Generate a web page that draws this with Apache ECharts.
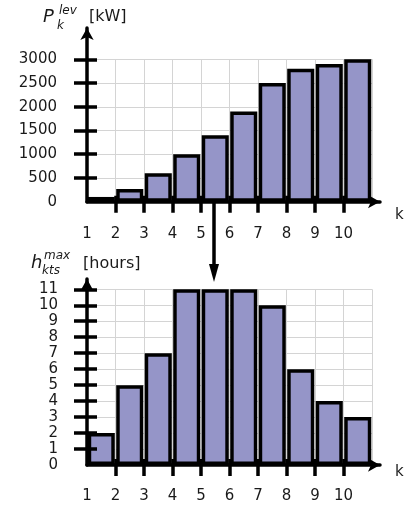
<!DOCTYPE html>
<html>
<head>
<meta charset="utf-8">
<style>
  html, body { margin: 0; padding: 0; background: #fff; }
  #main { width: 404px; height: 508px; }
</style>
<script src="https://cdn.jsdelivr.net/npm/echarts@6/dist/echarts.min.js"></script>
</head>
<body>
<div id="main"></div>
<script>
// data
var kCategories = ['1', '2', '3', '4', '5', '6', '7', '8', '9', '10']
var kTicks = ['1', '2', '3', '4', '5', '6', '7', '8', '9', '10', '11']
var powerLev = [100, 270, 600, 1000, 1400, 1900, 2500, 2800, 2900, 3000]
var hoursMax = [2, 5, 7, 11, 11, 11, 10, 6, 4, 3]
var powerTicks = ['0', '500', '1000', '1500', '2000', '2500', '3000']
var hoursTicks = ['0', '1', '2', '3', '4', '5', '6', '7', '8', '9', '10', '11']

var FONT = 'DejaVu Sans'
var TEXT = '#1a1a1a'
var BAR = '#9595c8'
var GRID_LINE = '#d4d4d4'
var W = 3.5

var grids = []
var xAxes = []
var yAxes = []
var series = []

// one panel = data grid + axis-line grid (for the arrows)
function addPanel(p) {
  var gA = grids.length
  grids.push({ left: 87, top: p.top, width: 285, height: p.height, outerBoundsMode: 'none' })
  grids.push({ left: 87, top: p.arrowTop, right: 24, bottom: 508 - p.top - p.height, outerBoundsMode: 'none' })
  var gB = gA + 1
  var last = p.ticks.length - 1
  var xi = xAxes.length
  var yi = yAxes.length

  // bars band axis (hidden)
  xAxes.push({ type: 'category', gridIndex: gA, position: 'bottom', data: kCategories, show: false, boundaryGap: true })
  // labels + split lines + outer ticks
  xAxes.push({
    type: 'category', gridIndex: gA, position: 'bottom', data: kTicks, boundaryGap: false,
    axisLine: { show: false },
    axisTick: { show: true, length: 11, interval: function(i) { return i > 0 && i < kTicks.length - 1 }, lineStyle: { color: '#000', width: W } },
    axisLabel: { interval: function(i) { return i < kTicks.length - 1 }, margin: p.xMargin, color: TEXT, fontFamily: FONT, fontSize: 15 },
    splitLine: { show: true, interval: 0, lineStyle: { color: GRID_LINE, width: 1 } }
  })
  // inner ticks on top of bars
  xAxes.push({
    type: 'category', gridIndex: gA, position: 'bottom', data: kTicks, boundaryGap: false, z: 10,
    axisLine: { show: false },
    axisTick: { show: true, inside: true, length: 6, interval: function(i) { return i > 0 && i < kTicks.length - 1 }, lineStyle: { color: '#000', width: W } },
    axisLabel: { show: false },
    splitLine: { show: false }
  })
  // arrow line
  xAxes.push({
    type: 'value', gridIndex: gB, position: 'bottom', min: 0, max: 1, z: 10,
    axisLine: { onZero: false, symbol: ['none', 'arrow'], symbolSize: [10, 12], lineStyle: { color: '#000', width: W } },
    axisTick: { show: false }, axisLabel: { show: false }, splitLine: { show: false }
  })

  yAxes.push({ type: 'value', gridIndex: gA, position: 'left', min: 0, max: Number(p.ticks[last]), show: false })
  yAxes.push({
    type: 'category', gridIndex: gA, position: 'left', data: p.ticks, boundaryGap: false,
    axisLine: { show: false },
    axisTick: { show: true, length: 13, interval: function(i) { return i > 0 }, lineStyle: { color: '#000', width: W } },
    axisLabel: { interval: 0, margin: p.yMargin, color: TEXT, fontFamily: FONT, fontSize: 15 },
    splitLine: { show: true, interval: 0, lineStyle: { color: GRID_LINE, width: 1 } }
  })
  yAxes.push({
    type: 'category', gridIndex: gA, position: 'left', data: p.ticks, boundaryGap: false, z: 10,
    axisLine: { show: false },
    axisTick: { show: true, inside: true, length: 10, interval: function(i) { return i > 0 }, lineStyle: { color: '#000', width: W } },
    axisLabel: { show: false },
    splitLine: { show: false }
  })
  yAxes.push({
    type: 'value', gridIndex: gB, position: 'left', min: 0, max: 1, z: 10,
    axisLine: { onZero: false, symbol: ['none', 'arrow'], symbolSize: [10, 12], lineStyle: { color: '#000', width: W } },
    axisTick: { show: false }, axisLabel: { show: false }, splitLine: { show: false }
  })

  series.push({
    type: 'bar',
    xAxisIndex: xi,
    yAxisIndex: yi,
    data: p.data,
    barCategoryGap: '5%',
    itemStyle: { color: BAR, borderColor: '#000', borderWidth: W },
    animation: false
  })
}

addPanel({ top: 59.3, height: 142.4, arrowTop: 28, ticks: powerTicks, data: powerLev, xMargin: 25, yMargin: 30 })
addPanel({ top: 289.3, height: 175.7, arrowTop: 279, ticks: hoursTicks, data: hoursMax, xMargin: 24, yMargin: 29 })

function txt(x, y, s, size, italic) {
  return {
    type: 'text', left: x, top: y, z: 20,
    style: { text: s, fill: TEXT, font: (italic ? 'italic ' : '') + size + 'px "' + FONT + '"' }
  }
}

var chart = echarts.init(document.getElementById('main'), null, { renderer: 'canvas' })
chart.setOption({
  backgroundColor: '#fff',
  animation: false,
  grid: grids,
  xAxis: xAxes,
  yAxis: yAxes,
  series: series,
  graphic: [
    txt(43, 8, 'P', 18, true),
    txt(59, 5, 'lev', 12, true),
    txt(57, 20, 'k', 12, true),
    txt(89, 9, '[kW]', 16, false),
    txt(31, 254, 'h', 18, true),
    txt(44, 250, 'max', 12, true),
    txt(42, 265, 'kts', 12, true),
    txt(83, 256, '[hours]', 16, false),
    txt(395, 208, 'k', 15, false),
    txt(395, 465, 'k', 15, false),
    {
      type: 'line', z: 20,
      shape: { x1: 214, y1: 202, x2: 214, y2: 268 },
      style: { stroke: '#000', lineWidth: W }
    },
    {
      type: 'polygon', z: 20,
      shape: { points: [[209, 264], [219, 264], [214, 282]] },
      style: { fill: '#000' }
    }
  ]
})
</script>
</body>
</html>
